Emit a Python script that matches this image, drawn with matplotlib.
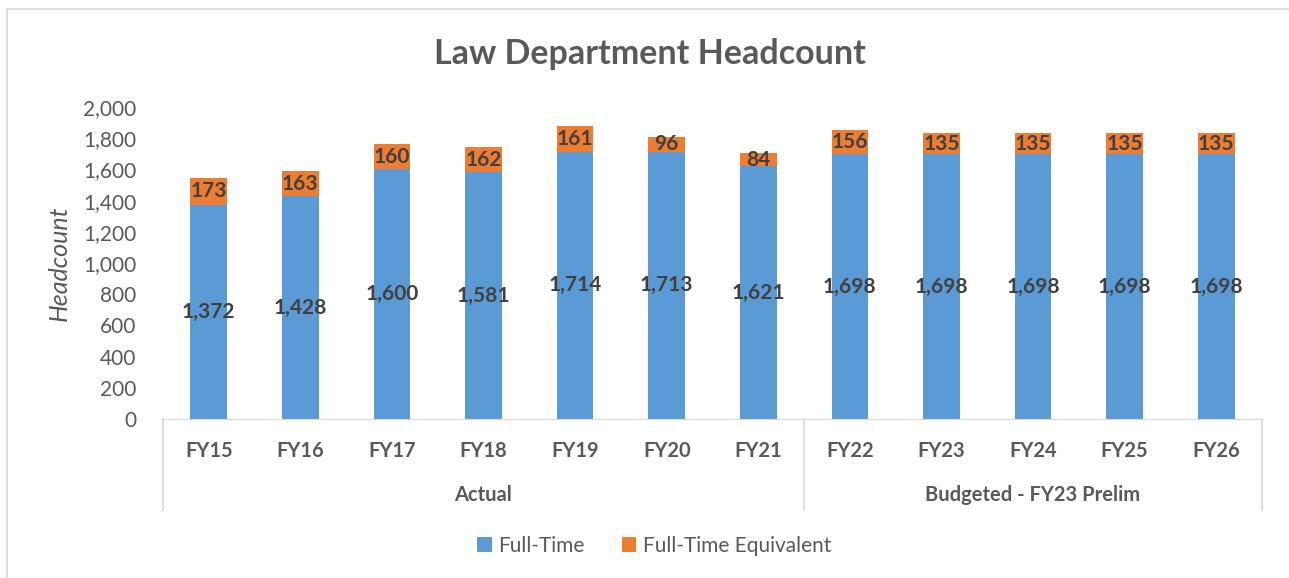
import matplotlib
matplotlib.use('Agg')
import matplotlib.pyplot as plt
from matplotlib.patches import Rectangle
import numpy as np

years = ['FY15', 'FY16', 'FY17', 'FY18', 'FY19', 'FY20', 'FY21',
         'FY22', 'FY23', 'FY24', 'FY25', 'FY26']
full_time = [1372, 1428, 1600, 1581, 1714, 1713, 1621, 1698, 1698, 1698, 1698, 1698]
fte = [173, 163, 160, 162, 161, 96, 84, 156, 135, 135, 135, 135]
groups = ['Actual', 'Budgeted - FY23 Prelim']
group_sizes = [7, 5]

blue = '#5B9BD5'
orange = '#ED7D31'
dark = '#404040'
grey = '#595959'

plt.rcParams['font.family'] = ['Lato', 'DejaVu Sans']

W, H = 1289, 578
fig = plt.figure(figsize=(W / 100, H / 100), dpi=100)
# outer chart border (right and bottom edges fall outside the picture)
fig.patches.append(Rectangle((7 / W, -0.1), 1.2, 1.1 - 9 / H, transform=fig.transFigure,
                             fill=False, edgecolor='#D9D9D9', linewidth=1.2))

ax_l, ax_r, ax_t, ax_b = 163, 1262, 107, 419
ax = fig.add_axes([ax_l / W, 1 - ax_b / H, (ax_r - ax_l) / W, (ax_b - ax_t) / H])

x = np.arange(len(years))
ax.bar(x, full_time, width=0.4, color=blue, label='Full-Time')
ax.bar(x, fte, width=0.4, bottom=full_time, color=orange, label='Full-Time Equivalent')

for i in x:
    ax.text(i, full_time[i] / 2, f'{full_time[i]:,}', ha='center', va='center',
            fontsize=15, fontweight='bold', color=dark)
    ax.text(i, full_time[i] + fte[i] / 2, f'{fte[i]:,}', ha='center', va='center',
            fontsize=15, fontweight='bold', color=dark)

ax.set_xlim(-0.5, len(years) - 0.5)
ax.set_ylim(0, 2000)
ax.set_yticks(range(0, 2001, 200))
ax.set_yticklabels([f'{v:,}' for v in range(0, 2001, 200)], fontsize=15, color=grey)
ax.tick_params(axis='y', length=0, pad=19)
ax.set_xticks(x)
ax.set_xticklabels(years, fontsize=14.5, fontweight='bold', color=grey)
ax.tick_params(axis='x', length=0, pad=16)
for s in ['top', 'right', 'left']:
    ax.spines[s].set_visible(False)
ax.spines['bottom'].set_color('#D9D9D9')

ax.set_ylabel('Headcount', fontsize=18, style='italic', color=grey)
ax.yaxis.set_label_coords((71 - ax_l) / (ax_r - ax_l), 0.5)

# group separators and labels below the category axis
sep_bottom = -(510 - ax_b) / (ax_b - ax_t)
trans = ax.get_xaxis_transform()
start = -0.5
for g, n in zip(groups, group_sizes):
    ax.plot([start, start], [0, sep_bottom], transform=trans, color='#D9D9D9', lw=1.2, clip_on=False)
    ax.text(start + n / 2, -(495 - ax_b) / (ax_b - ax_t), g, transform=trans, ha='center',
            va='center', fontsize=14.5, fontweight='bold', color=grey)
    start += n
ax.plot([start, start], [0, sep_bottom], transform=trans, color='#D9D9D9', lw=1.2, clip_on=False)

fig.text(650 / W, 1 - 54 / H, 'Law Department Headcount', ha='center',
         va='center', fontsize=24.5, fontweight='bold', color=grey)

fig.legend(loc='center', bbox_to_anchor=(654 / W, 1 - 546 / H), ncol=2, frameon=False,
           fontsize=15, handlelength=0.7, handleheight=0.7, columnspacing=1.8, handletextpad=0.3,
           labelcolor=grey)

fig.savefig('out.png', dpi=100)
